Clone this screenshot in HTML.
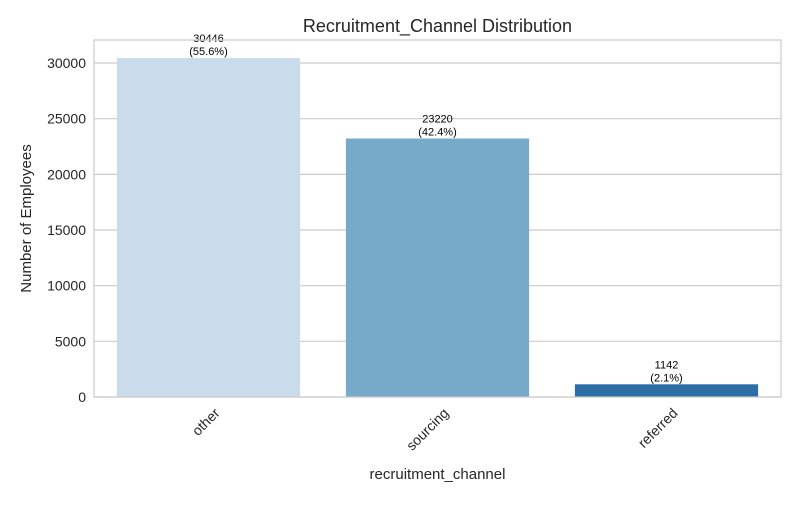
<!DOCTYPE html>
<html><head><meta charset="utf-8"><style>
body{margin:0;background:#fff;}
svg text{font-family:"Liberation Sans","DejaVu Sans",sans-serif;}
</style></head><body>
<svg id="chart" width="800" height="500" xmlns="http://www.w3.org/2000/svg">
<rect width="800" height="500" fill="#fff"/>
<g id="grid"></g>
<g id="bars"></g>
<rect x="94" y="40" width="687" height="357" fill="none" stroke="#cccccc" stroke-width="1.2"/>
<g id="yticks"></g>
<g id="xticks"></g>
<text x="437.5" y="32" text-anchor="middle" font-size="18" fill="#262626">Recruitment_Channel Distribution</text>
<text x="437.5" y="479" text-anchor="middle" font-size="15" fill="#262626">recruitment_channel</text>
<text transform="translate(31,218.5) rotate(-90)" text-anchor="middle" font-size="15" fill="#262626">Number of Employees</text>
</svg>
<script>
const categories=["other","sourcing","referred"];
const counts=[30446,23220,1142];
const pctLabels=["55.6%","42.4%","2.1%"];
const yTicks=[0,5000,10000,15000,20000,25000,30000];
const colors=["#cadbeb","#77a9cb","#2e6ea7"];
const X0=94,X1=781,Y0=397,Y1=40,YMAX=32068;
const ns="http://www.w3.org/2000/svg";
function y(v){return Y0-(v/YMAX)*(Y0-Y1);}
function xc(i){return X0+(i+0.5)*(X1-X0)/categories.length;}
const bw=0.8*(X1-X0)/categories.length;
function mk(t,a,p){const e=document.createElementNS(ns,t);for(const k in a)e.setAttribute(k,a[k]);p.appendChild(e);return e;}
const grid=document.getElementById('grid'),yt=document.getElementById('yticks');
yTicks.forEach(v=>{
 const l=mk('line',{x1:X0,x2:X1,y1:y(v),y2:y(v),stroke:'#cccccc','stroke-width':1.2},grid);
 
 
 const t=mk('text',{x:X0-8,y:y(v)+5,'text-anchor':'end','font-size':14,fill:'#262626'},yt);
 t.textContent=v;
 
 
});
const bars=document.getElementById('bars'),xt=document.getElementById('xticks');
categories.forEach((c,i)=>{
 const r=mk('rect',{x:xc(i)-bw/2,y:y(counts[i]),width:bw,height:Y0-y(counts[i]),fill:colors[i]},bars);
 
 
 const t1=mk('text',{x:xc(i),y:y(counts[i])-16,'text-anchor':'middle','font-size':11,fill:'#000'},bars);
 t1.textContent=counts[i];
 
 
 const t2=mk('text',{x:xc(i),y:y(counts[i])-3,'text-anchor':'middle','font-size':11,fill:'#000'},bars);
 t2.textContent='('+pctLabels[i]+')';
 
 
 const xl=mk('text',{transform:`translate(${xc(i)+12},${Y0+17}) rotate(-45)`,'text-anchor':'end','font-size':14,fill:'#262626'},xt);
 xl.textContent=c;
 
 
});
</script>
</body></html>
